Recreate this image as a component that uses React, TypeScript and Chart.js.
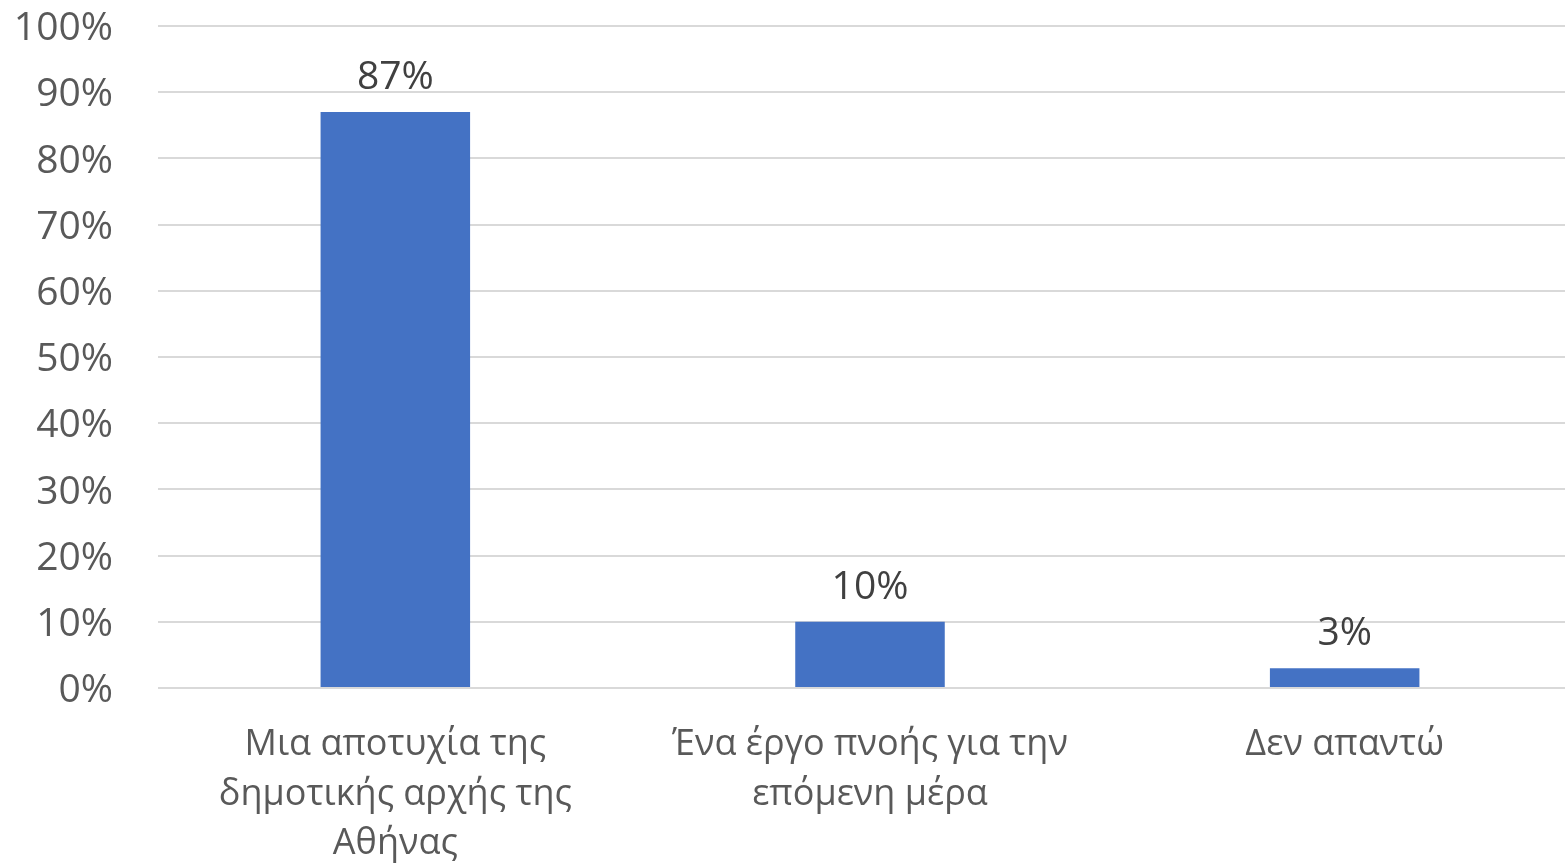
import React, { useEffect, useRef } from "react";
import { Chart, registerables } from "chart.js";

Chart.register(...registerables);

const categories: string[][] = [
  ["Μια αποτυχία της", "δημοτικής αρχής της", "Αθήνας"],
  ["Ένα έργο πνοής για την", "επόμενη μέρα"],
  ["Δεν απαντώ"],
];
const values: number[] = [87, 10, 3];
const valueLabels: string[] = ["87%", "10%", "3%"];

const FONT = "'Open Sans', 'Noto Sans', sans-serif";

const dataLabelPlugin = {
  id: "dataLabels",
  afterDatasetsDraw(chart: any) {
    const ctx = chart.ctx;
    const meta = chart.getDatasetMeta(0);
    ctx.save();
    ctx.font = `39px ${FONT}`;
    ctx.fillStyle = "#404040";
    ctx.textAlign = "center";
    ctx.textBaseline = "middle";
    meta.data.forEach((bar: any, i: number) => {
      ctx.fillText(valueLabels[i], bar.x, bar.y - 34);
    });
    ctx.restore();
  },
};

export default function App() {
  const ref = useRef<HTMLCanvasElement | null>(null);
  useEffect(() => {
    document.body.style.margin = "0";
    const chart = new Chart(ref.current!, {
      type: "bar",
      data: {
        labels: categories,
        datasets: [
          {
            data: values,
            backgroundColor: "#4472C4",
            barPercentage: 0.63,
            categoryPercentage: 0.5,
          },
        ],
      },
      options: {
        animation: false,
        responsive: false,
        maintainAspectRatio: false,
        layout: { padding: { top: 26, right: 0, left: 0, bottom: 0 } },
        plugins: { legend: { display: false }, tooltip: { enabled: false } },
        scales: {
          x: {
            grid: { display: false, drawTicks: false },
            border: { display: false },
            ticks: {
              color: "#595959",
              font: { family: FONT, size: 36, lineHeight: 1.375 },
              padding: 32,
              maxRotation: 0,
              autoSkip: false,
            },
            afterFit: (s: any) => {
              s.height = 176;
              s.paddingLeft = 0;
              s.paddingRight = 0;
            },
          },
          y: {
            min: 0,
            max: 100,
            ticks: {
              stepSize: 10,
              color: "#595959",
              font: { family: FONT, size: 39 },
              padding: 45,
              labelOffset: 3,
              callback: (v: any) => `${v}%`,
            },
            grid: { color: "#D9D9D9", lineWidth: 2, drawTicks: false },
            border: { display: false },
            afterFit: (s: any) => {
              s.width = 158;
              s.paddingTop = 0;
              s.paddingBottom = 0;
            },
          },
        },
      },
      plugins: [dataLabelPlugin],
    });
    return () => chart.destroy();
  }, []);
  return (
    <div
      style={{
        position: "fixed",
        left: 0,
        top: 0,
        width: 1565,
        height: 864,
        overflow: "hidden",
        background: "#fff",
      }}
    >
      <canvas ref={ref} width={1582} height={864} style={{ display: "block" }} />
    </div>
  );
}
